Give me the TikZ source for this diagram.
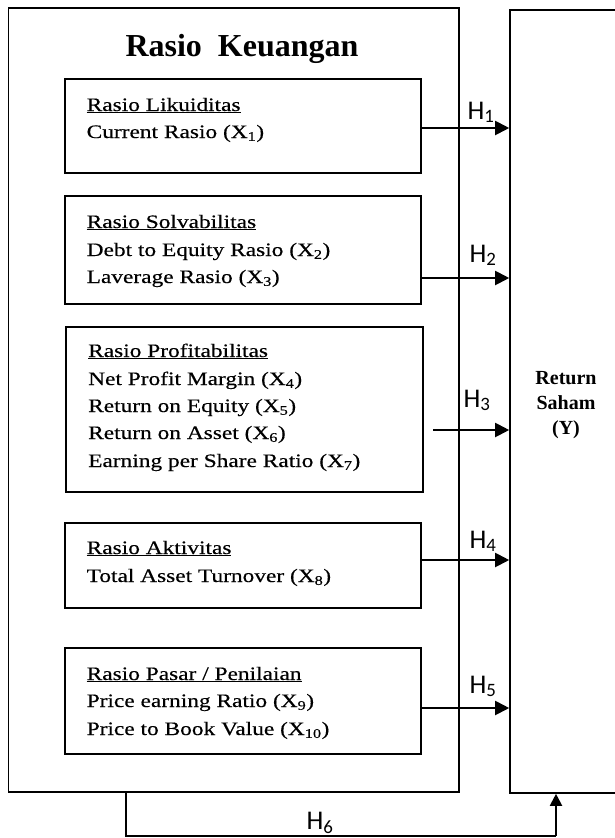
\documentclass[tikz,border=0pt]{standalone}
\usepackage{fontspec}
\setmainfont{Liberation Serif}
\newfontfamily\boxfont{Liberation Serif}[FakeStretch=1.23,FakeBold=0.4]
\newfontfamily\hfont{Carlito}
\usetikzlibrary{arrows.meta,fit}
\begin{document}
\begin{tikzpicture}[x=1pt,y=-1pt,
  frame/.style={draw,line width=1.6pt,inner sep=0pt},
  arr/.style={line width=2pt,-{Triangle[length=14pt,width=14pt]}},
  uparr/.style={line width=2pt,-{Triangle[length=12pt,width=12pt]}},
  plain/.style={line width=1.6pt},
  txt/.style={anchor=base west,inner sep=0pt,font=\boxfont\fontsize{19}{23}\selectfont},
  hl/.style={anchor=base,inner sep=0pt,font=\hfont\fontsize{27}{30}\selectfont},
  ylab/.style={anchor=base,inner sep=0pt,font=\bfseries\fontsize{20}{24}\selectfont}]
\clip (0,0) rectangle (615,838);
% frames
\node[frame, fit={(8.5,8) (459,792)}] (outer) {};
\node[frame, fit={(510,10) (640,793)}] (Y) {};
\node[frame, fit={(65,79) (421,173)}] (b1) {};
\node[frame, fit={(65,196) (421,304)}] (b2) {};
\node[frame, fit={(66,327) (423,492)}] (b3) {};
\node[frame, fit={(65,523) (421,608)}] (b4) {};
\node[frame, fit={(65,648) (421,754)}] (b5) {};
% title
\node[anchor=base,inner sep=0pt,font=\bfseries\fontsize{32}{36}\selectfont] (title) at (242,56) {Rasio\ \ Keuangan};
% box texts
\node[txt] (t11) at (86.5,111) {\underline{Rasio Likuiditas}};
\node[txt] (t12) at (86.5,138) {Current Rasio (X\textsubscript{1})};
\node[txt] (t21) at (86.5,228) {\underline{Rasio Solvabilitas}};
\node[txt] (t22) at (86.5,256) {Debt to Equity Rasio (X\textsubscript{2})};
\node[txt] (t23) at (86.5,283) {Laverage Rasio (X\textsubscript{3})};
\node[txt] (t31) at (88,357) {\underline{Rasio Profitabilitas}};
\node[txt] (t32) at (88,385) {Net Profit Margin (X\textsubscript{4})};
\node[txt] (t33) at (88,412) {Return on Equity (X\textsubscript{5})};
\node[txt] (t34) at (88,439) {Return on Asset (X\textsubscript{6})};
\node[txt] (t35) at (88,467) {Earning per Share Ratio (X\textsubscript{7})};
\node[txt] (t41) at (86.5,554) {\underline{Rasio Aktivitas}};
\node[txt] (t42) at (86.5,582) {Total Asset Turnover (X\textsubscript{8})};
\node[txt] (t51) at (86.5,680) {\underline{Rasio Pasar / Penilaian}};
\node[txt] (t52) at (86.5,707) {Price earning Ratio (X\textsubscript{9})};
\node[txt] (t53) at (86.5,735) {Price to Book Value (X\textsubscript{10})};
% Y label
\node[ylab] (y1) at (566,384) {Return};
\node[ylab] (y2) at (566,409) {Saham};
\node[ylab] (y3) at (566,434) {(Y)};
% arrow start points
\coordinate (a1) at (421,128);
\coordinate (a2) at (421,278);
\coordinate (a3) at (433,430);
\coordinate (a4) at (421,560);
\coordinate (a5) at (421,708);
\draw[arr] (a1) -- (a1 -| Y.west);
\draw[arr] (a2) -- (a2 -| Y.west);
\draw[arr] (a3) -- (a3 -| Y.west);
\draw[arr] (a4) -- (a4 -| Y.west);
\draw[arr] (a5) -- (a5 -| Y.west);
% H labels
\node[hl] (h1) at (481,119) {H\textsubscript{1}};
\node[hl] (h2) at (483,262) {H\textsubscript{2}};
\node[hl] (h3) at (477,407) {H\textsubscript{3}};
\node[hl] (h4) at (483,548) {H\textsubscript{4}};
\node[hl] (h5) at (483,693) {H\textsubscript{5}};
% H6 path
\coordinate (s6) at (126,792);
\coordinate (c6a) at (126,836);
\coordinate (c6b) at (556,836);
\draw[plain] (s6) -- (c6a) -- (c6b);
\draw[uparr] (c6b) -- (c6b |- Y.south);
\node[hl] (h6) at (320,829) {H\textsubscript{6}};
\end{tikzpicture}
\end{document}
